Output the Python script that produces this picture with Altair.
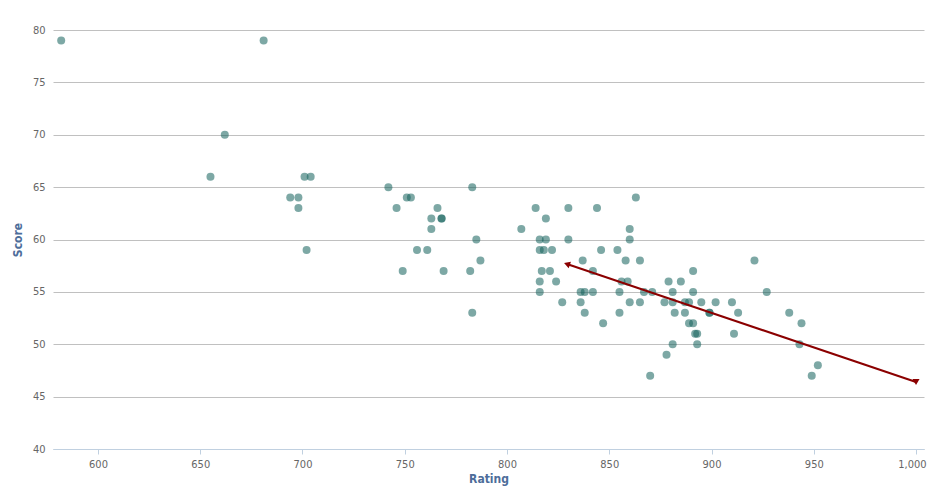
import altair as alt
import pandas as pd

rating = [582, 681, 662, 655, 701, 704, 694, 698, 698, 702,
          742, 751, 753, 746, 749, 766, 763, 768, 768, 763, 756, 761, 769,
          783, 785, 787, 782, 783, 807,
          814, 830, 844, 863, 819, 860, 816, 819, 830, 860,
          816, 818, 822, 846, 854, 837, 858, 865,
          817, 821, 842, 891, 816, 824, 856, 859, 879, 885,
          816, 836, 838, 842, 855, 867, 871, 881, 891, 927,
          827, 836, 860, 865, 877, 881, 887, 889, 895, 902, 910,
          838, 855, 882, 887, 899, 899, 913, 938,
          847, 889, 891, 944, 892, 893, 911,
          881, 893, 943, 878, 870, 921, 952, 949]
score = [79, 79, 70, 66, 66, 66, 64, 64, 63, 59,
         65, 64, 64, 63, 57, 63, 62, 62, 62, 61, 59, 59, 57,
         65, 60, 58, 57, 53, 61,
         63, 63, 63, 64, 62, 61, 60, 60, 60, 60,
         59, 59, 59, 59, 59, 58, 58, 58,
         57, 57, 57, 57, 56, 56, 56, 56, 56, 56,
         55, 55, 55, 55, 55, 55, 55, 55, 55, 55,
         54, 54, 54, 54, 54, 54, 54, 54, 54, 54, 54,
         53, 53, 53, 53, 53, 53, 53, 53,
         52, 52, 52, 52, 51, 51, 51,
         50, 50, 50, 49, 47, 58, 48, 47]

trend_x = [829.3, 1000]
trend_y = [57.66, 46.4]

pts = pd.DataFrame({"Rating": rating, "Score": score})
trend = pd.DataFrame({"Rating": trend_x, "Score": trend_y})
start = trend.iloc[[0]]
end = trend.iloc[[1]]

FONT = "Liberation Sans Narrow, DejaVu Sans Condensed, sans-serif"

xscale = alt.Scale(domain=[578, 1003.9], nice=False, zero=False)
yscale = alt.Scale(domain=[40, 80], nice=False, zero=False)

xax = alt.Axis(values=[600, 650, 700, 750, 800, 850, 900, 950, 1000], format=",d",
               grid=False, domainColor="#c0d0e0", tickColor="#c0d0e0", tickSize=5,
               labelColor="#666666", labelFontSize=11, labelFont=FONT, labelPadding=4,
               labelAlign=alt.expr("datum.value >= 1000 ? 'right' : 'center'"),
               labelOffset=alt.expr("datum.value >= 1000 ? 10 : 0"),
               title="Rating", titleColor="#4d6d9a", titleFont=FONT, titleFontSize=12,
               titleFontWeight="bold", titlePadding=4)
yax = alt.Axis(values=[40, 45, 50, 55, 60, 65, 70, 75, 80], grid=True, gridColor="#c0c0c0",
               domain=False, ticks=False, labelColor="#666666", labelFontSize=11,
               labelFont=FONT, labelPadding=8,
               title="Score", titleColor="#4d6d9a", titleFont=FONT, titleFontSize=12,
               titleFontWeight="bold", titlePadding=8)

points = alt.Chart(pts).mark_circle(size=64, color="#17645f", opacity=0.56).encode(
    x=alt.X("Rating:Q", scale=xscale, axis=xax),
    y=alt.Y("Score:Q", scale=yscale, axis=yax),
)

line = alt.Chart(trend).mark_line(color="#8b0000", strokeWidth=2).encode(
    x=alt.X("Rating:Q", scale=xscale),
    y=alt.Y("Score:Q", scale=yscale),
)

head1 = alt.Chart(start).mark_point(shape="triangle-up", angle=289, size=50, filled=True,
                                     color="#8b0000", opacity=1).encode(
    x=alt.X("Rating:Q", scale=xscale),
    y=alt.Y("Score:Q", scale=yscale),
)
head2 = alt.Chart(end).mark_point(shape="triangle-down", size=50, filled=True,
                                   color="#8b0000", opacity=1).encode(
    x=alt.X("Rating:Q", scale=xscale),
    y=alt.Y("Score:Q", scale=yscale),
)

chart = alt.layer(points, line, head1, head2).properties(
    width=871, height=419,
    autosize=alt.AutoSizeParams(type="none"),
    padding={"left": 45, "top": 22, "right": 3, "bottom": 40},
).configure_view(stroke=None)

chart.save("out.html", embed_options={"renderer": "svg", "actions": False})
